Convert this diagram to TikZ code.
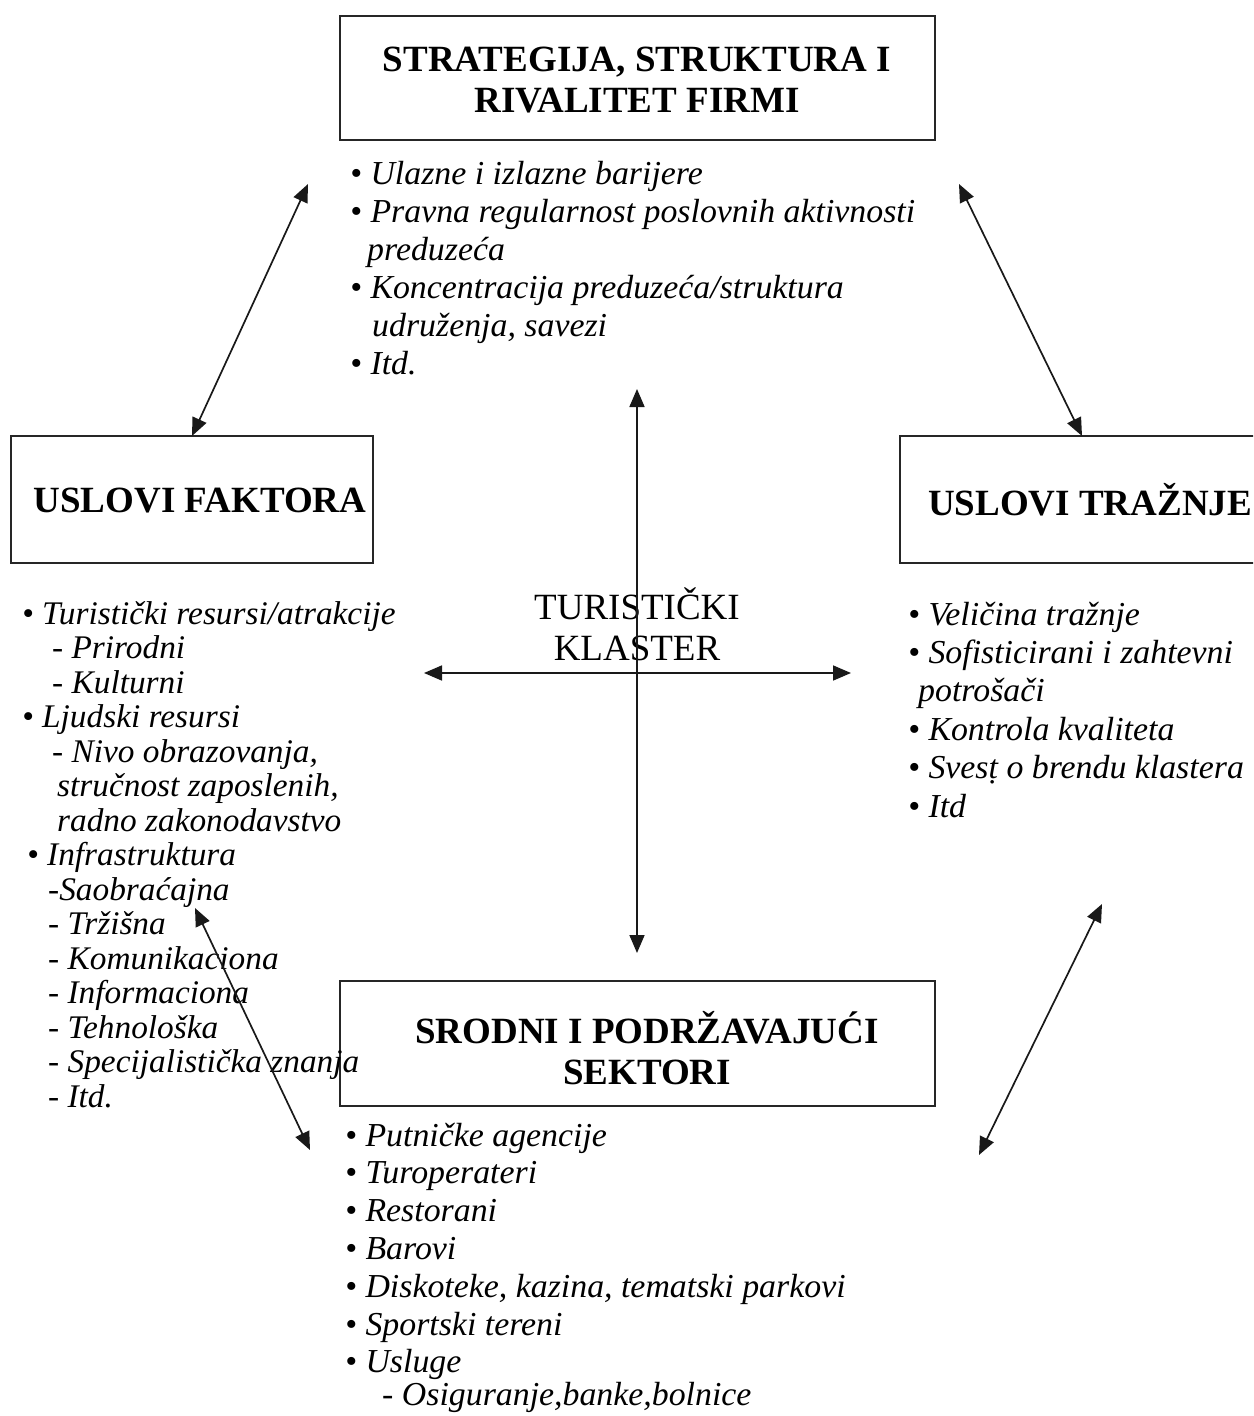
\documentclass[tikz,border=0pt]{standalone}
\usepackage{fontspec}
\setmainfont{Liberation Serif}
\newfontfamily\capsfont{Liberation Serif}
\newfontfamily\listfont[FakeStretch=1.01]{Liberation Serif}
\usetikzlibrary{arrows.meta}
\begin{document}
\begin{tikzpicture}[x=1pt,y=-1pt,
  box/.style={draw=black!85, line width=1.8pt, inner sep=0pt},
  head/.style={anchor=base, inner sep=0pt, font=\capsfont\bfseries\fontsize{37}{41}\selectfont},
  centre/.style={anchor=base, inner sep=0pt, font=\capsfont\fontsize{37}{41}\selectfont},
  items/.style={anchor=base west, inner sep=0pt, font=\listfont\itshape\fontsize{33.5}{38}\selectfont},
  subitems/.style={items, font=\listfont\itshape\fontsize{33}{34.5}\selectfont},
  link/.style={line width=1.7pt, draw=black!90,
    {Triangle[length=18pt,width=15pt]}-{Triangle[length=18pt,width=15pt]}},
]
\useasboundingbox (0,0) rectangle (1253,1416);
\clip (0,0) rectangle (1253,1416);

% the four boxes
\node[box, minimum width=595pt, minimum height=124pt] (strat) at (637.5,78) {};
\node[box, minimum width=362pt, minimum height=127pt] (fakt) at (192,499.5) {};
\node[box, minimum width=370pt, minimum height=127pt] (trazn) at (1085,499.5) {};
\node[box, minimum width=595pt, minimum height=125pt] (srod) at (637.5,1043.5) {};

% box headings
\node[head] (stratA) at (637,71) {STRATEGIJA, STRUKTURA I};
\node[head] (stratB) at (637,112) {RIVALITET FIRMI};
\node[head] (faktA) at (200,512) {USLOVI FAKTORA};
\node[head, anchor=base west] (traznA) at (928,515) {USLOVI TRAŽNJE};
\node[head] (srodA) at (647,1043) {SRODNI I PODRŽAVAJUĆI};
\node[head] (srodB) at (647,1084) {SEKTORI};

% centre label
\node[centre] (klA) at (637,619) {TURISTIČKI};
\node[centre] (klB) at (637,660) {KLASTER};

% bullet lists
\node[items] (stratL) at (350,184) {\begin{tabular}[t]{@{}l@{}}
• Ulazne i izlazne barijere\\
• Pravna regularnost poslovnih aktivnosti\\
\hspace*{17pt}preduzeća\\
• Koncentracija preduzeća/struktura\\
\hspace*{22pt}udruženja, savezi\\
• Itd.
\end{tabular}};

\node[subitems] (faktL) at (22,624) {\begin{tabular}[t]{@{}l@{}}
• Turistički resursi/atrakcije\\
\hspace*{30pt}- Prirodni\\
\hspace*{30pt}- Kulturni\\
• Ljudski resursi\\
\hspace*{30pt}- Nivo obrazovanja,\\
\hspace*{35pt}stručnost zaposlenih,\\
\hspace*{35pt}radno zakonodavstvo\\
\hspace*{5pt}• Infrastruktura\\
\hspace*{26pt}-Saobraćajna\\
\hspace*{26pt}- Tržišna\\
\hspace*{26pt}- Komunikaciona\\
\hspace*{26pt}- Informaciona\\
\hspace*{26pt}- Tehnološka\\
\hspace*{26pt}- Specijalistička znanja\\
\hspace*{26pt}- Itd.
\end{tabular}};

\node[items, font=\listfont\itshape\fontsize{33.5}{38.4}\selectfont] (traznL) at (908,625) {\begin{tabular}[t]{@{}l@{}}
• Veličina tražnje\\
• Sofisticirani i zahtevni\\
\hspace*{10pt}potrošači\\
• Kontrola kvaliteta\\
• Sves\d{t} o brendu klastera\\
• Itd
\end{tabular}};

\node[items, font=\listfont\itshape\fontsize{33.5}{37.8}\selectfont] (srodL) at (345,1146) {\begin{tabular}[t]{@{}l@{}}
• Putničke agencije\\
• Turoperateri\\
• Restorani\\
• Barovi\\
• Diskoteke, kazina, tematski parkovi\\
• Sportski tereni\\
• Usluge\\[-5pt]
\hspace*{37pt}- Osiguranje,banke,bolnice
\end{tabular}};

% connector ends
\coordinate (tlA) at (308,184);
\coordinate (tlB) at (192,436);
\coordinate (trA) at (959,184);
\coordinate (trB) at (1082,436);
\coordinate (blA) at (195,908);
\coordinate (blB) at (310,1150);
\coordinate (brA) at (1102,904);
\coordinate (brB) at (979,1155);
\coordinate (vA) at (637,389);
\coordinate (vB) at (637,953);
\coordinate (hA) at (424,673);
\coordinate (hB) at (851,673);

% relations of the diamond
\draw[link] (tlA) -- (tlB);
\draw[link] (trA) -- (trB);
\draw[link] (blA) -- (blB);
\draw[link] (brA) -- (brB);
\draw[link] (vA) -- (vB);
\draw[link] (hA) -- (hB);
\end{tikzpicture}
\end{document}
